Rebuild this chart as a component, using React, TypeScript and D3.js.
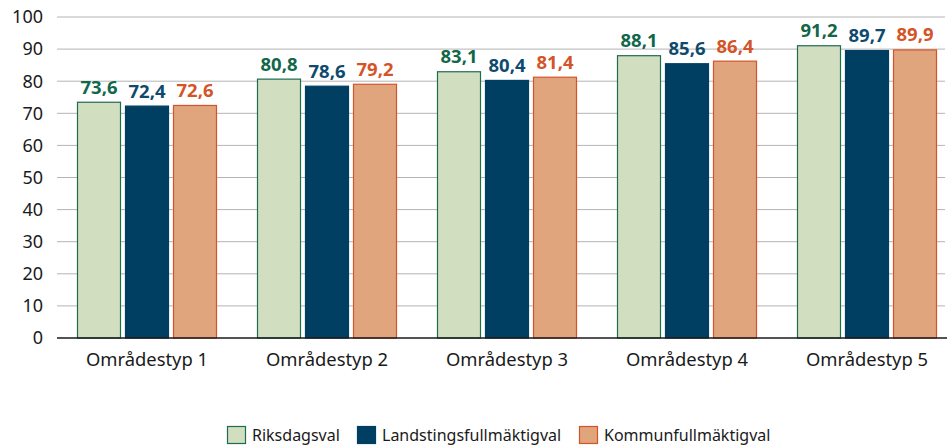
import React from "react";
import * as d3 from "d3";

const categories = ["Områdestyp 1", "Områdestyp 2", "Områdestyp 3", "Områdestyp 4", "Områdestyp 5"];
const seriesNames = ["Riksdagsval", "Landstingsfullmäktigval", "Kommunfullmäktigval"];
const riksdagsval = [73.6, 80.8, 83.1, 88.1, 91.2];
const landsting = [72.4, 78.6, 80.4, 85.6, 89.7];
const kommun = [72.6, 79.2, 81.4, 86.4, 89.9];
const yTicks = [0, 10, 20, 30, 40, 50, 60, 70, 80, 90, 100];

const fills = ["#d1dfc0", "#003f62", "#e0a57c"];
const strokes = ["#1e6b50", "#003f62", "#d4542a"];
const labelColors = ["#12664a", "#0e4a6e", "#d4542a"];

const W = 947, H = 446;
const FONT = "'Noto Sans', 'Open Sans', sans-serif";

export default function App() {
  const series = [riksdagsval, landsting, kommun];
  const x = d3.scaleBand<string>().domain(categories).range([57, 957]).paddingInner(0).paddingOuter(0);
  const y = d3.scaleLinear().domain([0, 100]).range([338, 17]);
  const barW = 44, barStep = 48;
  const fmt = (v: number) => v.toFixed(1).replace(".", ",");

  const legendX = [227, 357, 579];
  return (
    <svg width={W} height={H} style={{ position: "absolute", left: 0, top: 0 }} fontFamily={FONT}>
      {yTicks.map((t) => (
        <g key={t}>
          {t > 0 && <line x1={57} x2={945} y1={y(t)} y2={y(t)} stroke="#b4b4b4" strokeWidth={1} />}
          <text x={43} y={y(t)} dy="0.35em" textAnchor="end" fontSize={18} fill="#1a1a1a">{t}</text>
        </g>
      ))}
      {categories.map((c, i) => {
        const cx = x(c)! + x.bandwidth() / 2;
        return (
          <g key={c}>
            {series.map((s, j) => {
              const bx = cx + (j - 1) * barStep - barW / 2;
              const v = s[i];
              return (
                <g key={j}>
                  <rect x={bx + 0.5} y={y(v) + 0.5} width={barW - 1} height={y(0) - y(v) - 0.5}
                    fill={fills[j]} stroke={strokes[j]} strokeWidth={1.2} />
                  <text x={bx + barW / 2} y={y(v) - 8} textAnchor="middle" fontSize={18.5} fontWeight={700} fill={labelColors[j]}>{fmt(v)}</text>
                </g>
              );
            })}
            <text x={cx} y={366} textAnchor="middle" fontSize={18.4} fill="#1a1a1a">{c}</text>
          </g>
        );
      })}
      <line x1={57} x2={947} y1={y(0)} y2={y(0)} stroke="#1a1a1a" strokeWidth={1.5} />
      {seriesNames.map((n, j) => (
        <g key={n}>
          <rect x={legendX[j] + 0.5} y={426.5} width={18} height={17} fill={fills[j]} stroke={strokes[j]} strokeWidth={1.2} />
          <text x={legendX[j] + 25} y={441} fontSize={16} fill="#1a1a1a">{n}</text>
        </g>
      ))}
    </svg>
  );
}
